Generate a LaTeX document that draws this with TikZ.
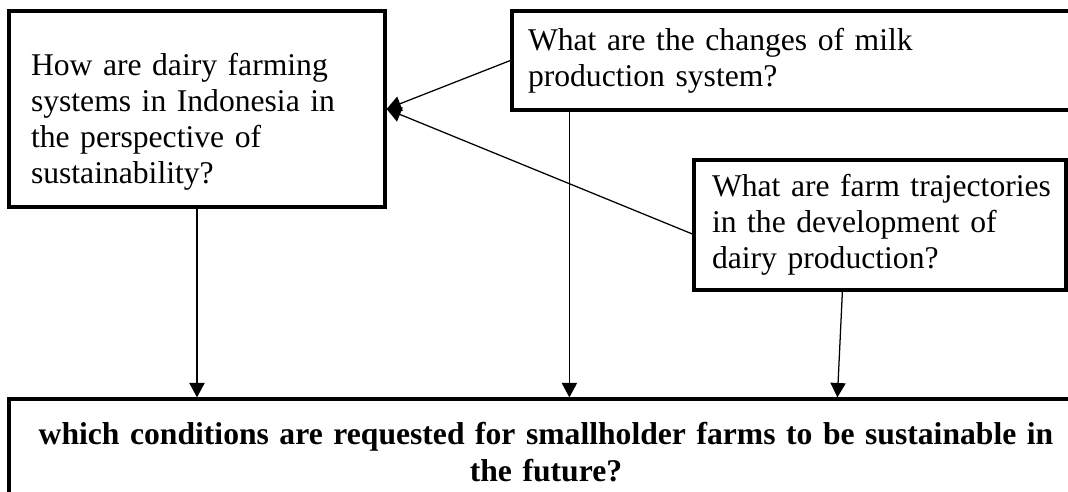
\documentclass[tikz,border=0pt]{standalone}
\usepackage{fontspec}
\setmainfont{Liberation Serif}
\usetikzlibrary{arrows.meta}

\begin{document}
\begin{tikzpicture}
\clip (0,0) rectangle (26.7,-12.3);
\begin{scope}[every node/.style={rectangle,draw,line width=2.3pt,inner ysep=0pt,font=\fontsize{22.5}{25.5}\selectfont}]
    \node [text width=8.3cm, inner xsep=0.55cm, minimum height=4.9cm, align=left] (dairy) at (4.925,-2.725) {\rule{0pt}{34pt}How are dairy farming\\systems in Indonesia in\\the perspective of\\sustainability?};
    \node [text width=13.9cm, inner xsep=0.4cm, minimum height=2.475cm, align=left] (milk) at (20.15,-1.5125) {What are the changes of milk\\production system?};
    \node [text width=8.4cm, inner xsep=0.45cm, minimum height=3.25cm, align=left] (traj) at (22,-5.625) {\mbox{What are farm trajectories}\\in the development of\\dairy production?};
    \node [text width=26cm, inner xsep=0.425cm, minimum height=2.65cm, align=center, font=\fontsize{22.5}{26.3}\selectfont\bfseries] (goal) at (13.65,-11.3) {which conditions are requested for smallholder farms to be sustainable in\\the future?};
\end{scope}

\coordinate (m) at ([xshift=1.475cm]milk.south west);
\coordinate (t) at ([xshift=3.75cm]traj.south west);
\coordinate (tg) at ([xshift=20.75cm]goal.north west);

\begin{scope}[line width=0.9pt, -{Triangle[length=0.36cm,width=0.38cm]}]
    \path (milk.west) edge (dairy.east);
    \path ([yshift=-0.225cm]traj.west) edge (dairy.east);
    \path (dairy.south) edge (dairy.south |- goal.north);
    \path (m) edge (m |- goal.north);
    \path (t) edge (tg);
\end{scope}

\end{tikzpicture}
\end{document}
